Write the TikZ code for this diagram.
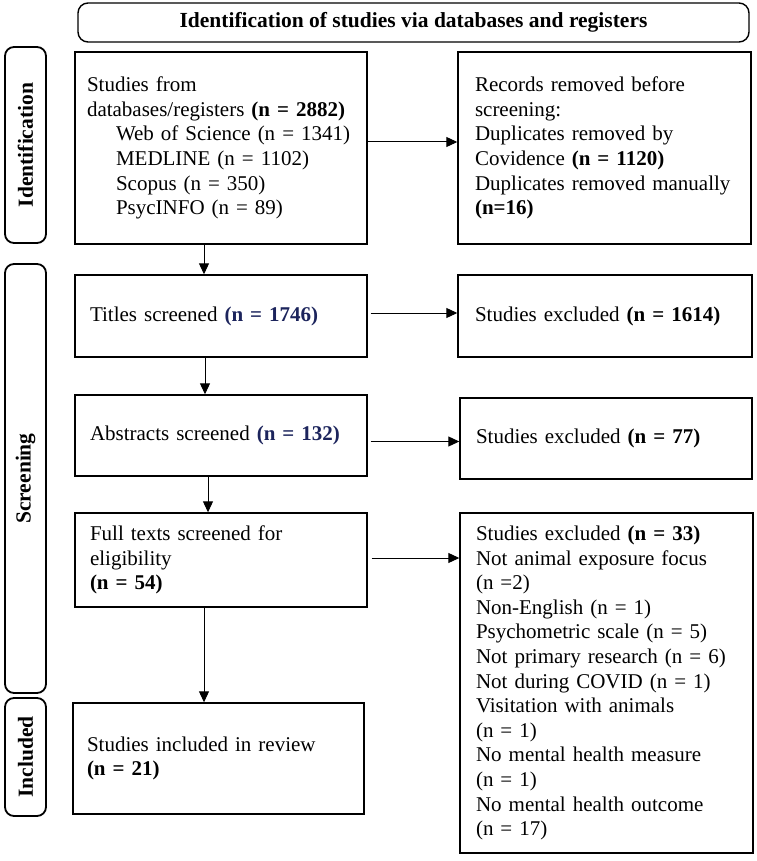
\documentclass[tikz,border=0pt]{standalone}
\usepackage{fontspec}
\setmainfont{Liberation Serif}
\usetikzlibrary{arrows.meta}

\definecolor{navyn}{RGB}{28,36,92}

\tikzset{
    stagebox/.style={draw, line width=1.4pt, inner ysep=0pt, align=left,
        font=\fontsize{21}{24.6}\selectfont},
    sidelabel/.style={draw, line width=1.8pt, rounded corners=9pt, rotate=90,
        inner sep=0pt, font=\fontsize{21.5}{24}\selectfont\bfseries},
    flow/.style={-{Triangle[length=11pt, width=10pt]}, line width=1pt}
}

\begin{document}
\begin{tikzpicture}[x=1pt, y=-1pt]

    \useasboundingbox (0,0) rectangle (756,861);
    % Header and phase labels
    \node[draw, line width=1.4pt, rounded corners=10pt, minimum width=671pt, minimum height=39pt, inner sep=0pt,
        font=\fontsize{21.5}{24}\selectfont\bfseries] (head) at (413.5,22.5) {Identification of studies via databases and registers};
    \node[sidelabel, minimum width=196pt, minimum height=41pt] (labid) at (25.5,145) {Identification};
    \node[sidelabel, minimum width=429pt, minimum height=41pt] (labscr) at (25.5,478.5) {Screening};
    \node[sidelabel, minimum width=118pt, minimum height=41pt] (labinc) at (25.5,757) {Included};
    % Left column
    \node[stagebox, minimum width=292pt, minimum height=192pt, inner xsep=12pt, text width=268pt] (src) at (221,148)
        {Studies from\\ databases/registers \textbf{(n = 2882)}\\
        \hspace*{29pt}Web of Science (n = 1341)\\ \hspace*{29pt}MEDLINE (n = 1102)\\
        \hspace*{29pt}Scopus (n = 350)\\ \hspace*{29pt}PsycINFO (n = 89)};
    \node[stagebox, minimum width=292pt, minimum height=82pt, inner xsep=15pt, text width=262pt] (titles) at (221,316)
        {Titles screened \textcolor{navyn}{\textbf{(n = 1746)}}};
    \node[stagebox, minimum width=292pt, minimum height=81pt, inner xsep=15pt, text width=262pt] (abs) at (221,435.5)
        {Abstracts screened \textcolor{navyn}{\textbf{(n = 132)}}};
    \node[stagebox, minimum width=292pt, minimum height=94pt, inner xsep=15pt, text width=262pt] (full) at (221,560)
        {Full texts screened for\\ eligibility\\ \textbf{(n = 54)}};
    \node[stagebox, minimum width=291pt, minimum height=111pt, inner xsep=14pt, text width=263pt] (incl) at (218.5,758.5)
        {Studies included in review\\ \textbf{(n = 21)}};
    % Right column
    \node[stagebox, minimum width=293pt, minimum height=192pt, inner xsep=17pt, text width=259pt] (rem) at (604.5,148)
        {Records removed before\\ screening:\\ Duplicates removed by\\ Covidence \textbf{(n = 1120)}\\
        Duplicates removed manually\\ \textbf{(n=16)}};
    \node[stagebox, minimum width=294pt, minimum height=82pt, inner xsep=17pt, text width=260pt] (excla) at (605,316)
        {Studies excluded \textbf{(n = 1614)}};
    \node[stagebox, minimum width=292pt, minimum height=81pt, inner xsep=16pt, text width=260pt] (exclb) at (606,438.5)
        {Studies excluded \textbf{(n = 77)}};
    \node[stagebox, minimum width=293pt, minimum height=340pt, inner xsep=16pt, text width=261pt] (exclc) at (606.5,683)
        {Studies excluded \textbf{(n = 33)}\\ Not animal exposure focus\\ (n =2)\\ Non-English (n = 1)\\
        Psychometric scale (n = 5)\\ Not primary research (n = 6)\\ Not during COVID (n = 1)\\
        Visitation with animals\\ (n = 1)\\ No mental health measure\\ (n = 1)\\
        No mental health outcome\\ (n = 17)};
    % Downward arrows
    \draw[flow] ([xshift=-17pt]src.south) -- ([xshift=-17pt]src.south |- titles.north); % sources to titles
    \draw[flow] ([xshift=-16pt]titles.south) -- ([xshift=-16pt]titles.south |- abs.north); % titles to abstracts
    \draw[flow] ([xshift=-13pt]abs.south) -- ([xshift=-13pt]abs.south |- full.north); % abstracts to full texts
    \draw[flow] ([xshift=-17pt]full.south) -- ([xshift=-17pt]full.south |- incl.north); % full texts to included
    % Arrows to the exclusions
    \draw[flow] ([yshift=6pt]src.east) -- ([yshift=6pt]src.east -| rem.west); % removed records
    \draw[flow, shorten <=3pt] ([yshift=3pt]titles.east) -- ([yshift=3pt]titles.east -| excla.west); % excluded by title
    \draw[flow, shorten <=3pt] ([yshift=-6pt]abs.east) -- ([yshift=-6pt]abs.east -| exclb.west); % excluded by abstract
    \draw[flow, shorten <=4pt] ([yshift=2pt]full.east) -- ([yshift=2pt]full.east -| exclc.west); % excluded by full text
\end{tikzpicture}
\end{document}
